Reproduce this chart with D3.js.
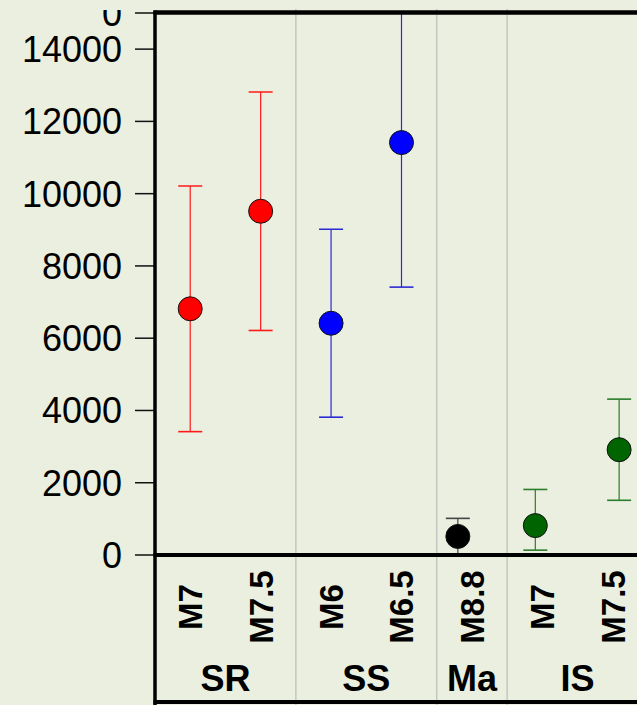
<!DOCTYPE html>
<html>
<head>
<meta charset="utf-8">
<script src="https://cdn.jsdelivr.net/npm/d3@7"></script>
<style>
  body { margin: 0; background: #ebefdf; }
  svg { display: block; font-family: "Liberation Sans", Arial, sans-serif; }
</style>
</head>
<body>
<div id="chart"></div>
<script>
// Chart data
const groups = ["SR", "SR", "SS", "SS", "Ma", "IS", "IS"];
const magnitudes = ["M7", "M7.5", "M6", "M6.5", "M8.8", "M7", "M7.5"];
const meanValues = [6800, 9500, 6400, 11400, 500, 800, 2900];
const lowValues = [3400, 6200, 3800, 7400, 0, 120, 1500];
const highValues = [10200, 12800, 9000, 15400, 1000, 1800, 4300];
// small horizontal dodge of points inside their band (fraction of band)
const dodge = [0, 0, 0, 0, -0.2, -0.1, 0.09];
const yTickValues = [0, 2000, 4000, 6000, 8000, 10000, 12000, 14000, 15000];
const yTickLabels = ["0", "2000", "4000", "6000", "8000", "10000", "12000", "14000", "0"];

const fillColors = { SR: "#ff0000", SS: "#0000ff", Ma: "#000000", IS: "#006400" };
const barColors = { SR: "#ff1a1a", SS: "#2b2bd6", Ma: "#444444", IS: "#2a7d2a" };

const width = 637, height = 705;
const plot = { left: 155, top: 12.5, axisY: 555, bottom: 702, right: 648 };

const data = groups.map((g, i) => ({
    key: g + "_" + magnitudes[i],
    group: g,
    mag: magnitudes[i],
    mean: meanValues[i],
    low: lowValues[i],
    high: highValues[i],
    dodge: dodge[i]
}));

const svg = d3.select("#chart").append("svg")
    .attr("width", width)
    .attr("height", height);

svg.append("rect")
    .attr("width", width)
    .attr("height", height)
    .attr("fill", "#ebefdf");

// Scales
const xScale = d3.scaleBand()
    .domain(data.map(d => d.key))
    .range([plot.left, plot.right])
    .padding(0);

const yScale = d3.scaleLinear()
    .domain([0, 15000])
    .range([plot.axisY - 0.5, plot.top]);

const bw = xScale.bandwidth();

// Group extents (panels)
const groupNames = Array.from(new Set(groups));
const panels = groupNames.map(g => {
    const keys = data.filter(d => d.group === g).map(d => d.key);
    const x0 = xScale(keys[0]);
    const x1 = xScale(keys[keys.length - 1]) + bw;
    return { group: g, x0, x1 };
});

// Panel separators
svg.append("g")
    .selectAll("line")
    .data(panels.slice(1))
    .enter().append("line")
    .attr("x1", d => d.x0)
    .attr("x2", d => d.x0)
    .attr("y1", 9)
    .attr("y2", height)
    .attr("stroke", "#c4c6c0")
    .attr("stroke-width", 1.5);

// Clip for the plotting region
svg.append("clipPath")
    .attr("id", "plotClip")
    .append("rect")
    .attr("x", plot.left)
    .attr("y", plot.top)
    .attr("width", plot.right - plot.left)
    .attr("height", plot.axisY - plot.top);

const marks = svg.append("g").attr("clip-path", "url(#plotClip)");

const cx = d => xScale(d.key) + bw / 2 + d.dodge * bw;

// Error bars
const bars = marks.selectAll(".errbar")
    .data(data)
    .enter().append("g")
    .attr("class", "errbar")
    .attr("stroke", d => barColors[d.group])
    .attr("stroke-width", 1.2);

bars.append("line")
    .attr("x1", cx).attr("x2", cx)
    .attr("y1", d => yScale(d.low))
    .attr("y2", d => yScale(d.high));

bars.append("line")
    .attr("x1", d => cx(d) - 12).attr("x2", d => cx(d) + 12)
    .attr("y1", d => yScale(d.high)).attr("y2", d => yScale(d.high))
    .attr("stroke-width", 1.6);

bars.append("line")
    .attr("x1", d => cx(d) - 12).attr("x2", d => cx(d) + 12)
    .attr("y1", d => yScale(d.low)).attr("y2", d => yScale(d.low))
    .attr("stroke-width", 1.6);

// Points
marks.selectAll(".pt")
    .data(data)
    .enter().append("circle")
    .attr("class", "pt")
    .attr("cx", cx)
    .attr("cy", d => yScale(d.mean))
    .attr("r", 12)
    .attr("fill", d => fillColors[d.group])
    .attr("stroke", "#111")
    .attr("stroke-width", 1);

// Y axis (the top label is cut by the picture's upper edge)
svg.append("clipPath")
    .attr("id", "axisClip")
    .append("rect")
    .attr("x", 0).attr("y", 10)
    .attr("width", plot.left).attr("height", height);

const yAxis = svg.append("g")
    .attr("clip-path", "url(#axisClip)")
    .append("g")
    .attr("transform", `translate(${plot.left},0)`)
    .call(d3.axisLeft(yScale)
        .tickValues(yTickValues)
        .tickFormat((d, i) => yTickLabels[i])
        .tickSize(20)
        .tickPadding(13));

yAxis.select(".domain").remove();
yAxis.selectAll(".tick line")
    .attr("stroke", "#111")
    .attr("stroke-width", 1.5);
yAxis.selectAll(".tick text")
    .attr("font-size", 36)
    .attr("font-family", "'Liberation Sans', Arial, sans-serif")
    .attr("fill", "#000")
    .attr("dy", "0.36em");

// Category labels (rotated)
svg.append("g")
    .selectAll("text")
    .data(data)
    .enter().append("text")
    .attr("transform", d => `translate(${xScale(d.key) + bw / 2},607) rotate(-90)`)
    .attr("text-anchor", "middle")
    .attr("dy", "0.36em")
    .attr("font-size", 33)
    .attr("font-weight", "bold")
    .attr("fill", "#000")
    .text(d => d.mag);

// Group labels
svg.append("g")
    .selectAll("text")
    .data(panels)
    .enter().append("text")
    .attr("x", d => (d.x0 + d.x1) / 2)
    .attr("y", 691)
    .attr("text-anchor", "middle")
    .attr("font-size", 36)
    .attr("font-weight", "bold")
    .attr("fill", "#000")
    .text(d => d.group);

// Frame: left, top, x-axis and bottom lines
const frame = svg.append("g").attr("stroke", "#000");
frame.append("line")
    .attr("x1", plot.left).attr("x2", plot.left)
    .attr("y1", plot.top - 2).attr("y2", height)
    .attr("stroke-width", 3.5);
frame.append("line")
    .attr("x1", plot.left - 1.5).attr("x2", width)
    .attr("y1", plot.top).attr("y2", plot.top)
    .attr("stroke-width", 4.5);
frame.append("line")
    .attr("x1", plot.left - 1.5).attr("x2", width)
    .attr("y1", plot.axisY).attr("y2", plot.axisY)
    .attr("stroke-width", 4);
frame.append("line")
    .attr("x1", plot.left - 1.5).attr("x2", width)
    .attr("y1", plot.bottom).attr("y2", plot.bottom)
    .attr("stroke-width", 4);
</script>
</body>
</html>
